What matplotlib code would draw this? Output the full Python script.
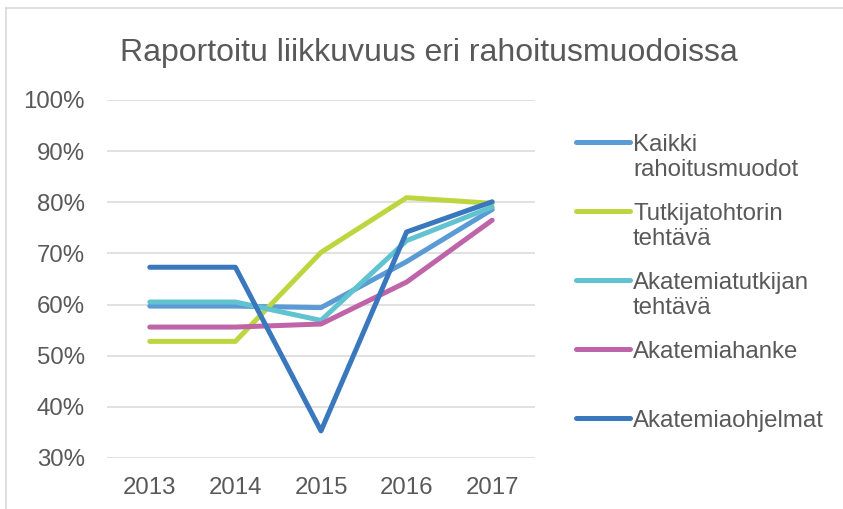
import matplotlib.pyplot as plt
from matplotlib.lines import Line2D

W, H = 843, 509

years = ['2013', '2014', '2015', '2016', '2017']
kaikki = [59.7, 59.7, 59.4, 68.4, 78.6]
tutkijatohtori = [52.8, 52.8, 70.2, 80.9, 79.8]
akatemiatutkija = [60.5, 60.5, 56.9, 72.5, 79.1]
akatemiahanke = [55.6, 55.6, 56.2, 64.4, 76.5]
akatemiaohjelmat = [67.3, 67.3, 35.3, 74.2, 80.1]

series = [
    (kaikki, ['Kaikki', 'rahoitusmuodot'], '#5B9BD5'),
    (tutkijatohtori, ['Tutkijatohtorin', 'tehtävä'], '#BDD63F'),
    (akatemiatutkija, ['Akatemiatutkijan', 'tehtävä'], '#62C3D0'),
    (akatemiahanke, ['Akatemiahanke'], '#BF64A8'),
    (akatemiaohjelmat, ['Akatemiaohjelmat'], '#3A78BE'),
]

TXT = '#595959'
GRID = '#D9D9D9'
plt.rcParams['font.family'] = ['Liberation Sans', 'DejaVu Sans']


def fx(x):
    return x / W


def fy(y):
    return 1 - y / H


fig = plt.figure(figsize=(W / 100, H / 100), dpi=100)
# chart area border (only left and top edges are inside the picture)
fig.add_artist(Line2D([fx(6), fx(6)], [0, fy(8)], color=GRID, linewidth=1.2,
                      transform=fig.transFigure))
fig.add_artist(Line2D([fx(6), 1], [fy(8), fy(8)], color=GRID, linewidth=1.2,
                      transform=fig.transFigure))

ax = fig.add_axes([fx(107), fy(458), fx(535) - fx(107), fy(100) - fy(458)])
x = list(range(len(years)))
for vals, lab, col in series:
    ax.plot(x, vals, color=col, linewidth=3.6, solid_capstyle='round',
            solid_joinstyle='round')

ax.set_xlim(-0.5, len(years) - 0.5)
ax.set_ylim(30, 100)
ax.set_yticks(range(30, 101, 10))
ax.set_yticklabels([f'{v}%' for v in range(30, 101, 10)])
ax.set_xticks(x)
ax.set_xticklabels(years)
ax.grid(axis='y', color=GRID, linewidth=1.1)
ax.set_axisbelow(True)
for s in ax.spines.values():
    s.set_visible(False)
ax.tick_params(length=0, labelsize=17.3, colors=TXT)
ax.tick_params(axis='y', pad=16)
ax.tick_params(axis='x', pad=14)

fig.text(fx(428.5), fy(61), 'Raportoitu liikkuvuus eri rahoitusmuodoissa',
         ha='center', va='baseline', fontsize=23, color=TXT)

# legend drawn by hand, Excel style
handle_y = [141.7, 210.7, 280, 349, 417.7]
for (vals, lab, col), hy in zip(series, handle_y):
    fig.add_artist(Line2D([fx(576), fx(630)], [fy(hy), fy(hy)], color=col,
                          linewidth=3.6, solid_capstyle='round',
                          transform=fig.transFigure))
    for i, line in enumerate(lab):
        fig.text(fx(633), fy(hy + 9.5 + i * 25), line, ha='left', va='baseline',
                 fontsize=17.3, color=TXT)

fig.savefig('out.png', dpi=100)
